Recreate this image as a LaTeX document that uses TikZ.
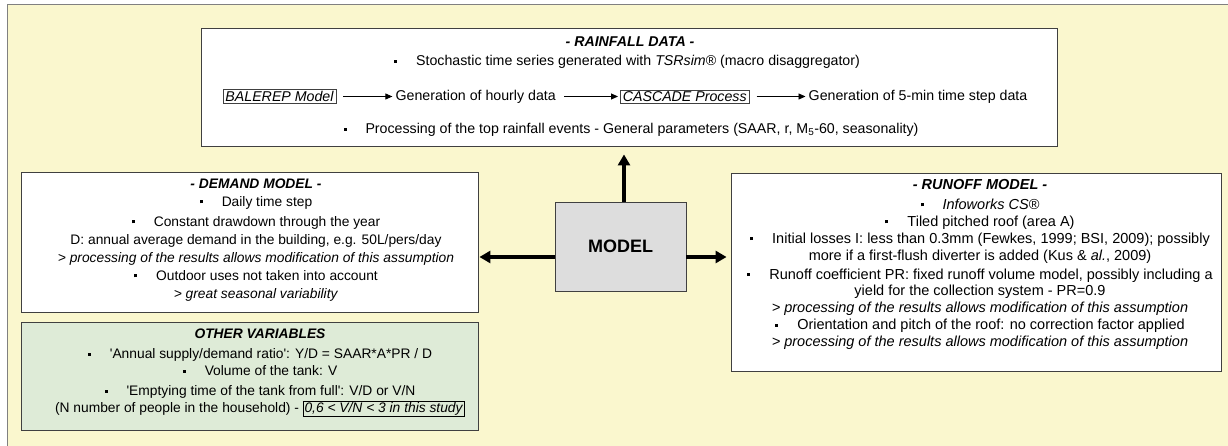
\documentclass[tikz,border=0pt]{standalone}
\usepackage{fontspec}
\setmainfont{Liberation Sans}
\usetikzlibrary{arrows.meta,positioning,shadows}
\definecolor{paper}{RGB}{250,247,206}
\definecolor{sage}{RGB}{222,235,215}
\definecolor{core}{RGB}{221,221,221}
\definecolor{rim}{RGB}{64,64,64}
\newcommand{\bul}{\rule[3pt]{3pt}{3pt}\hspace{19pt}}
\setlength{\fboxsep}{1pt}
\setlength{\fboxrule}{0.7pt}
\tikzset{
  panel/.style={draw=rim,line width=0.9pt,fill=white,inner sep=0pt,
    drop shadow={shadow xshift=1.2pt,shadow yshift=-1.2pt,fill=black!55,opacity=.8}},
  body/.style={align=center,inner sep=0pt,font=\fontsize{13.8}{18}\selectfont},
  tool/.style={draw=rim,line width=0.6pt,inner xsep=2.5pt,inner ysep=1.5pt,font=\fontsize{14.2}{16}\selectfont\itshape},
  plain/.style={inner xsep=1pt,inner ysep=1.5pt,font=\fontsize{14.2}{16}\selectfont},
  flow/.style={-{Triangle[length=7pt,width=6pt]},line width=0.9pt,shorten <=7pt,shorten >=2pt},
  big/.style={-{Triangle[length=11pt,width=12pt]},line width=3.3pt}
}
\begin{document}
\begin{tikzpicture}[x=1pt,y=-1pt]
\useasboundingbox (0,0) rectangle (1228,446);
\filldraw[fill=paper,draw=black!50,line width=1pt] (7,5) rectangle (1240,460);

\node[panel,minimum width=856pt,minimum height=118pt] (rain) at (629,87) {};
\node[plain,font=\fontsize{14.2}{16}\selectfont\bfseries\itshape] (raintitle) at (630,42) {- RAINFALL DATA -};
\node[plain] (tsr) at (627,62) {\bul Stochastic time series generated with \textit{TSRsim}® (macro disaggregator)};
\node[tool] (balerep) at (279.5,96.5) {BALEREP Model};
\node[plain,right=58pt of balerep] (hourly) {Generation of hourly data};
\node[tool,right=63pt of hourly] (cascade) {CASCADE Process};
\node[plain,right=58pt of cascade] (fivemin) {Generation of 5-min time step data};
\node[plain] (events) at (631,130) {\bul Processing of the top rainfall events - General parameters (SAAR, r, M\textsubscript{5}-60, seasonality)};
\path[flow]
    (balerep) edge (hourly)
    (hourly)  edge (cascade)
    (cascade) edge (fivemin)
;

\node[draw=rim,fill=core,line width=0.9pt,minimum width=131pt,minimum height=89pt,
      font=\fontsize{18}{20}\selectfont\bfseries] (model) at (620.5,246.5) {MODEL};

\node[panel,minimum width=457pt,minimum height=140pt] (demand) at (249.5,242) {};
\node[body] (demandtext) at (256,240) {\textbf{\textit{- DEMAND MODEL -}}\\
  \bul Daily time step\\[2pt]
  \bul Constant drawdown through the year\\
  D: annual average demand in the building, e.g. 50L/pers/day\\
  \textit{> processing of the results allows modification of this assumption}\\
  \bul Outdoor uses not taken into account\\
  \textit{> great seasonal variability}};

\node[panel,fill=sage,minimum width=457pt,minimum height=108pt] (other) at (249.5,376) {};
\node[body,font=\fontsize{13.8}{17}\selectfont] (othertext) at (260,373) {\textbf{\textit{OTHER VARIABLES}}\\[3pt]
  \bul \textquotesingle Annual supply/demand ratio\textquotesingle: Y/D = SAAR*A*PR / D\\
  \bul Volume of the tank: V\\[3pt]
  \bul \textquotesingle Emptying time of the tank from full\textquotesingle: V/D or V/N\\
  (N number of people in the household) - \fbox{\textit{0,6 < V/N < 3 in this study}}};

\node[panel,minimum width=490pt,minimum height=198pt] (runoff) at (976,272) {};
\node[body,font=\fontsize{14.5}{16.9}\selectfont] (runofftext) at (980,264.5) {\textbf{\textit{- RUNOFF MODEL -}}\\[3pt]
  \bul \textit{Infoworks CS}®\\
  \bul Tiled pitched roof (area A)\\
  \bul Initial losses I: less than 0.3mm (Fewkes, 1999; BSI, 2009); possibly\\
  more if a first-flush diverter is added (Kus \& \textit{al.}, 2009)\\[2pt]
  \bul Runoff coefficient PR: fixed runoff volume model, possibly including a\\
  yield for the collection system - PR=0.9\\
  \textit{> processing of the results allows modification of this assumption}\\
  \bul Orientation and pitch of the roof: no correction factor applied\\
  \textit{> processing of the results allows modification of this assumption}};

\coordinate (topy) at ([xshift=3.5pt]model.north);
\coordinate (lefty) at ([yshift=-10.5pt]model.west);
\coordinate (righty) at ([yshift=-10.5pt]model.east);
\path[big]
    (topy)   edge[shorten >=8pt] (topy |- rain.south)
    (lefty)  edge[shorten >=1pt] (lefty -| demand.east)
    (righty) edge[shorten >=4pt] (righty -| runoff.west)
;
\end{tikzpicture}
\end{document}
